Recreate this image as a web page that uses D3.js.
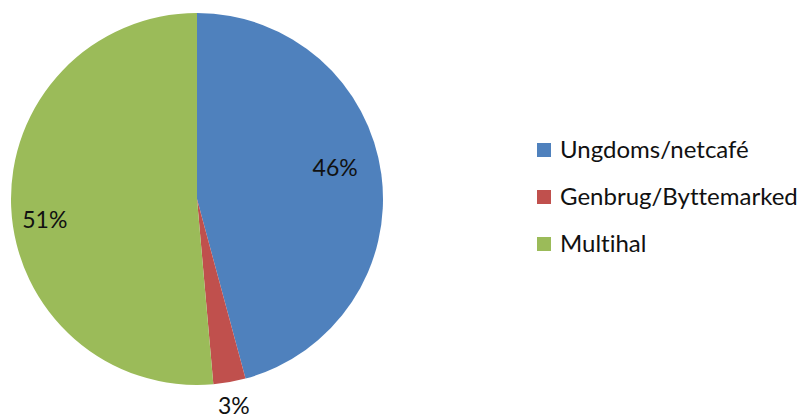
<!DOCTYPE html>
<html lang="da">
<head>
<meta charset="utf-8">
<script src="https://d3js.org/d3.v7.min.js"></script>
<style>
  body { margin: 0; background: #fff; }
  text { font-family: Lato, "Open Sans", sans-serif; fill: #111; font-variant-ligatures: none; }
</style>
</head>
<body>
<svg id="chart"></svg>
<script>
// slice data
const categories = ["Ungdoms/netcafé", "Genbrug/Byttemarked", "Multihal"];
const values = [45.8, 2.8, 51.4];
const labels = ["46%", "3%", "51%"];
const colors = ["#4F81BD", "#C0504D", "#9BBB59"];

const width = 805, height = 418;
const cx = 197, cy = 199, radius = 186;

const svg = d3.select("#chart").attr("width", width).attr("height", height);

const pie = d3.pie().sort(null).value(d => d);
const arcs = pie(values);
const arc = d3.arc().innerRadius(0).outerRadius(radius);

const g = svg.append("g").attr("transform", `translate(${cx},${cy})`);

g.selectAll("path.slice")
  .data(arcs)
  .enter().append("path")
  .attr("class", "slice")
  .attr("d", arc)
  .attr("fill", (d, i) => colors[i]);

// labels: inside for big slices, outside for the small one (excel "best fit")
const inner = d3.arc().innerRadius(radius * 0.76).outerRadius(radius * 0.76);
const outer = d3.arc().innerRadius(radius * 1.13).outerRadius(radius * 1.13);
const nudge = [[-2, -12], [0, 0], [-11, 15]];

g.selectAll("text.lbl")
  .data(arcs)
  .enter().append("text")
  .attr("class", "lbl")
  .attr("transform", (d, i) => {
    const c = (d.endAngle - d.startAngle) < 0.3 ? outer.centroid(d) : inner.centroid(d);
    return `translate(${c[0] + nudge[i][0]},${c[1] + nudge[i][1]})`;
  })
  .attr("text-anchor", "middle")
  .attr("dy", "0.35em")
  .style("font-size", "23px")
  .text((d, i) => labels[i]);

// legend
const legend = svg.append("g").attr("transform", "translate(537,143)");
const item = legend.selectAll("g")
  .data(categories)
  .enter().append("g")
  .attr("transform", (d, i) => `translate(0,${i * 47})`);

item.append("rect")
  .attr("width", 14).attr("height", 14)
  .attr("fill", (d, i) => colors[i]);

item.append("text")
  .attr("x", 23).attr("y", 7)
  .attr("dy", "0.35em")
  .style("font-size", "24px")
  .text(d => d);
</script>
</body>
</html>
